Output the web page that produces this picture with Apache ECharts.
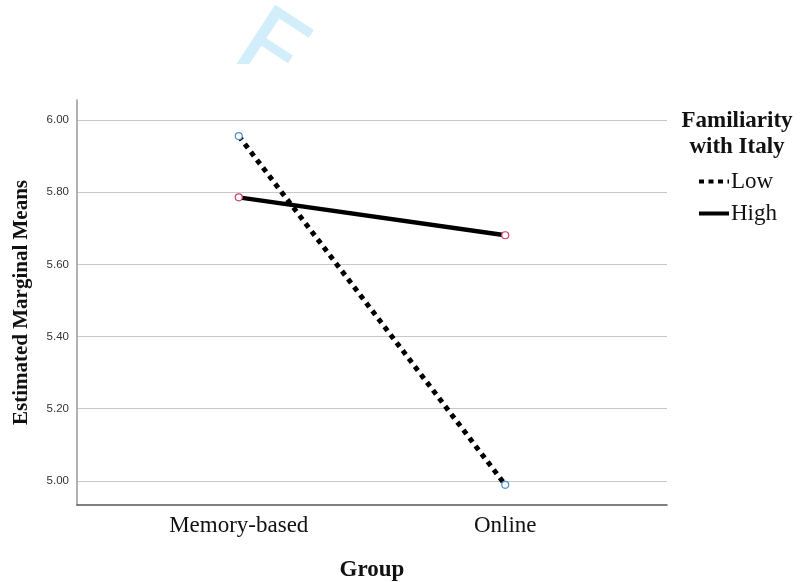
<!DOCTYPE html>
<html>
<head>
<meta charset="utf-8">
<script src="https://cdn.jsdelivr.net/npm/echarts@6/dist/echarts.min.js"></script>
<style>html,body{margin:0;padding:0;background:#fff}#c{width:802px;height:582px}</style>
</head>
<body>
<div id="c"></div>
<script>
var categories = ['Memory-based', 'Online'];
var lowValues = [5.956, 4.989];
var highValues = [5.786, 5.681];
var yTicks = [5.0, 5.2, 5.4, 5.6, 5.8, 6.0];
var seriesNames = ['Low', 'High'];

var serif = '"Liberation Serif", "Times New Roman", serif';
var chart = echarts.init(document.getElementById('c'), null, {renderer: 'canvas'});
chart.setOption({
  animation: false,
  backgroundColor: '#ffffff',
  grid: {left: 77, top: 100, right: 135, bottom: 77, containLabel: false, outerBoundsMode: 'none'},
  graphic: [
    {type: 'text', x: 268, y: -4, rotation: -0.58, z: 1, silent: true,
     style: {text: 'F', font: '110px "DejaVu Sans", sans-serif', fill: '#d3eefb', align: 'left', verticalAlign: 'top'}},
    {type: 'rect', shape: {x: 0, y: 64, width: 802, height: 34}, style: {fill: '#ffffff'}, z: 2, silent: true},
    {type: 'text', x: 737, y: 108, z: 5,
     style: {text: 'Familiarity\nwith Italy', font: 'bold 23px ' + serif, fill: '#111', align: 'center', verticalAlign: 'top', lineHeight: 26}}
  ],
  legend: {
    orient: 'vertical', left: 692, top: 165, itemWidth: 30, itemHeight: 14, itemGap: 9,
    data: [
      {name: seriesNames[0], lineStyle: {width: 4, type: [5, 4.5], color: '#000'}},
      {name: seriesNames[1], lineStyle: {width: 4, color: '#000'}}
    ],
    textStyle: {fontFamily: serif, fontSize: 23, color: '#111', padding: [0, 0, 0, -3]},
    itemStyle: {opacity: 0}
  },
  xAxis: {
    type: 'value', min: -0.607, max: 1.607,
    name: 'Group', nameLocation: 'middle', nameGap: 54,
    nameTextStyle: {fontFamily: serif, fontSize: 23, fontWeight: 'bold', color: '#111'},
    axisLine: {show: true, onZero: false, lineStyle: {color: '#555', width: 1.5}},
    axisTick: {show: false, customValues: [0, 1]},
    splitLine: {show: false},
    axisLabel: {customValues: [0, 1], margin: 9, fontFamily: serif, fontSize: 23, color: '#111',
      formatter: function (v) { return categories[Math.round(v)] || ''; }}
  },
  yAxis: {
    type: 'value', min: 4.933, max: 6.056,
    name: 'Estimated Marginal Means', nameLocation: 'middle', nameGap: 45,
    nameTextStyle: {fontFamily: serif, fontSize: 21, fontWeight: 'bold', color: '#111'},
    axisLine: {show: true, onZero: false, lineStyle: {color: '#999', width: 1.5}},
    axisTick: {show: false, customValues: yTicks},
    splitLine: {show: true, lineStyle: {color: '#c8c8c8', width: 1.2}},
    axisLabel: {customValues: yTicks, margin: 8, fontFamily: '"Liberation Sans", Arial, sans-serif', fontSize: 11.5, color: '#333',
      formatter: function (v) { return v.toFixed(2); }}
  },
  series: [
    {name: seriesNames[0], type: 'line', data: lowValues.map(function (v, i) { return [i, v]; }),
     symbol: 'circle', symbolSize: 7,
     itemStyle: {color: '#ffffff', borderColor: '#4d8fd0', borderWidth: 1.2},
     lineStyle: {color: '#000', width: 5, type: [5, 5], cap: 'butt'}, z: 3},
    {name: seriesNames[1], type: 'line', data: highValues.map(function (v, i) { return [i, v]; }),
     symbol: 'circle', symbolSize: 7,
     itemStyle: {color: '#ffffff', borderColor: '#d0406a', borderWidth: 1.2},
     lineStyle: {color: '#000', width: 4.5}, z: 3}
  ]
});
</script>
</body>
</html>
